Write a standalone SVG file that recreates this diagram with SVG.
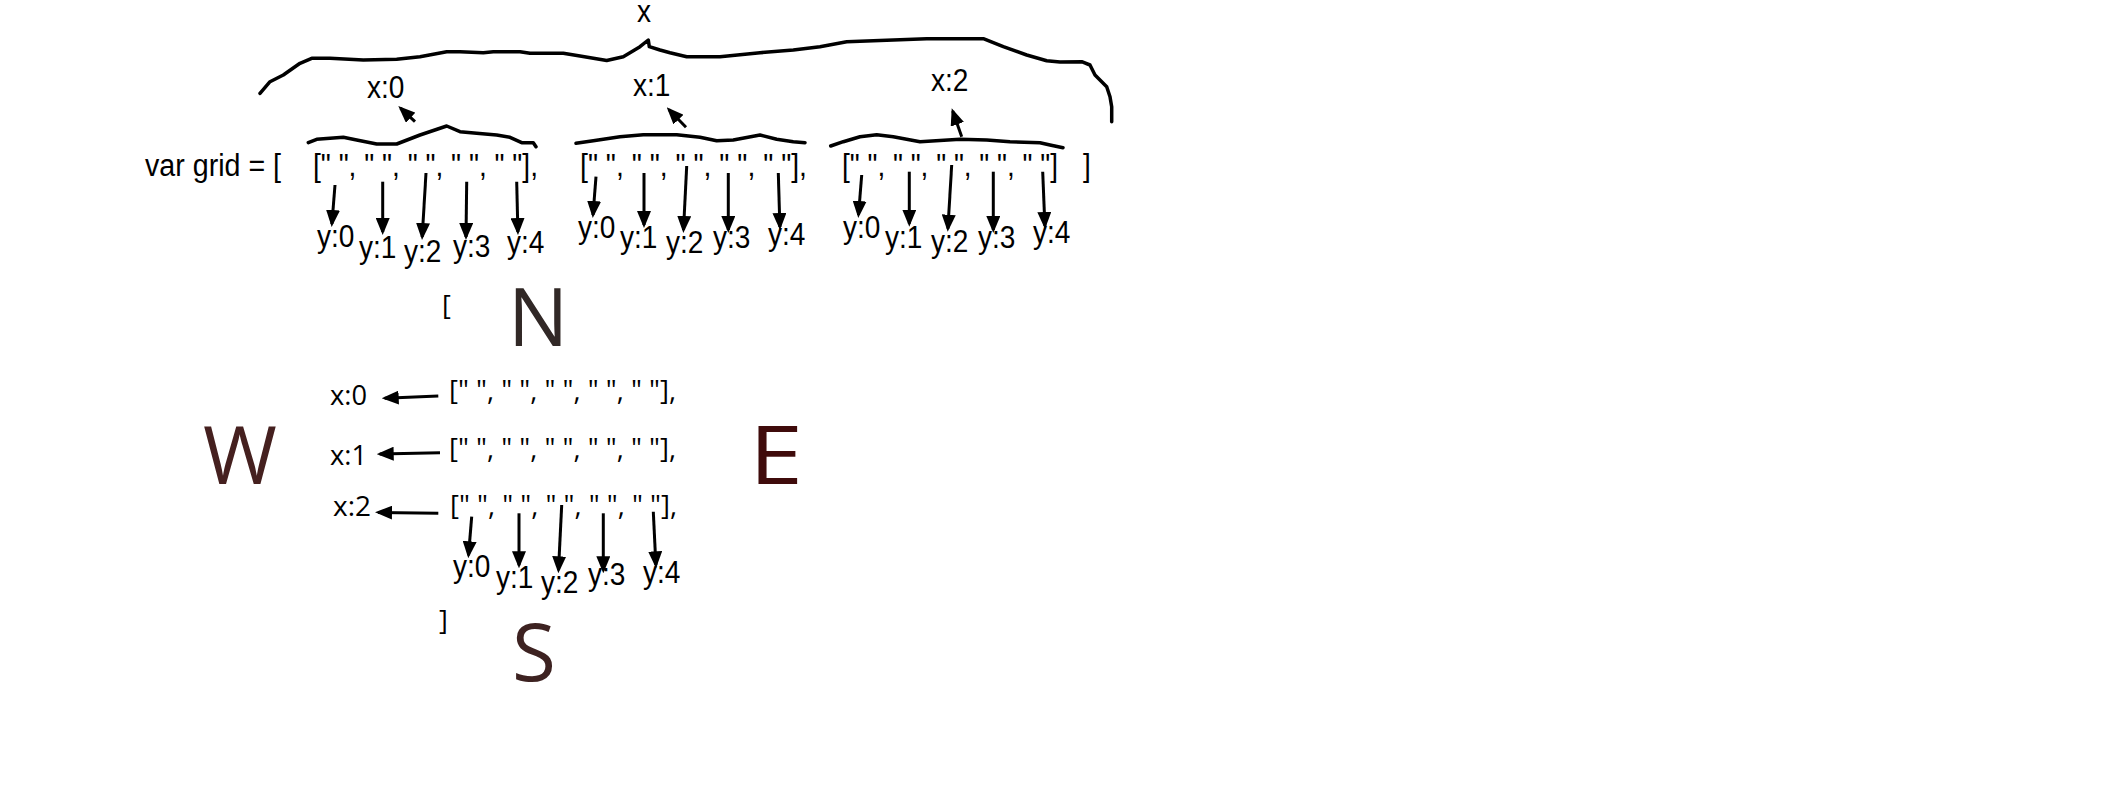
<svg xmlns="http://www.w3.org/2000/svg" width="2112" height="798" viewBox="0 0 2112 798">
<style>
.t{font-family:"Liberation Sans",Arial,sans-serif;font-size:31px;fill:#000}
.o{font-family:"Open Sans","Noto Sans",sans-serif;font-size:27px;fill:#000}
.ol{font-family:"Open Sans","Noto Sans",sans-serif;font-size:28px;fill:#000}
.big{font-family:"Open Sans","Noto Sans",sans-serif;font-size:80px}
.br{fill:none;stroke:#000;stroke-width:3.5;stroke-linejoin:round;stroke-linecap:round}
.ar{fill:none;stroke:#000;stroke-width:3;marker-end:url(#ah)}
</style>
<defs>
<marker id="ah" markerUnits="userSpaceOnUse" markerWidth="17" markerHeight="14" viewBox="0 0 17 14" refX="14" refY="7" orient="auto">
<path d="M0,0 L17,7 L0,14 z" fill="#000"/>
</marker>
</defs>
<rect width="2112" height="798" fill="#fff"/>

<g id="braces">
<polyline class="br" points="260,93.3 270,81.7 283.3,75 300,63.3 311.7,58.3 330,58.3 363.3,60 396.7,59.3 420,56.7 446.7,51.7 460,51.7 483.3,52.7 493.3,51.7 520,51.7 530,53.3 563.3,53.3 580,56 606.7,60.5 623.3,56.7 640,46.7 648.3,40 649.3,46.7 660,50 670,52.7 686.7,56.7 720,56.7 760,52.7 793.3,50 820,46.7 846.7,41.7 893.3,40 926.7,38.7 983.3,38.7 1003.3,46.7 1026.7,55 1046.7,60.7 1060,62 1081.7,61.7 1090,65 1095,75 1106.7,86.7 1110,96.7 1111.7,106.7 1111.7,121.7"/>
<polyline class="br" points="308.3,142.7 316.7,139.3 343.3,137.3 356.7,140 376.7,144 396.7,144 420,135 446.7,126 460,131.7 476.7,133.3 496.7,135 510,137.3 521.7,142.7 533.3,142.7 536,146.7"/>
<polyline class="br" points="576,143.3 593.3,140.7 620,136.7 643.3,134.7 676.7,134.7 700,137.3 716.7,140.7 733.3,140 760,135 776.7,139.3 793.3,141.7 805,142.7"/>
<polyline class="br" points="830.7,146 843.3,141.7 860,136.7 876.7,134.7 893.3,136.7 920,141.7 960,139.3 986.7,140 1010,141.7 1040,142.7 1050,145 1063,147.7"/>
</g>

<g id="top-labels">
<text class="t" x="637" y="22" textLength="14" lengthAdjust="spacingAndGlyphs">x</text>
<text class="t" x="367" y="98" textLength="37.4" lengthAdjust="spacingAndGlyphs">x:0</text>
<text class="t" x="633" y="96" textLength="37.4" lengthAdjust="spacingAndGlyphs">x:1</text>
<text class="t" x="931" y="91" textLength="37.4" lengthAdjust="spacingAndGlyphs">x:2</text>
</g>

<g id="grid-row">
<text class="t" x="145" y="176" textLength="136" lengthAdjust="spacingAndGlyphs">var grid = [</text>
<text class="t" x="313" y="176" textLength="225" lengthAdjust="spacingAndGlyphs">[" ", " ", " ", " ", " "],</text>
<text class="t" x="580" y="176" textLength="227" lengthAdjust="spacingAndGlyphs">[" ", " ", " ", " ", " "],</text>
<text class="t" x="842" y="176" textLength="216" lengthAdjust="spacingAndGlyphs">[" ", " ", " ", " ", " "]</text>
<text class="t" x="1083" y="176" textLength="7.8" lengthAdjust="spacingAndGlyphs">]</text>
</g>

<g id="y-labels-0">
<text class="t" x="317" y="247" textLength="37.4" lengthAdjust="spacingAndGlyphs">y:0</text>
<text class="t" x="359" y="258" textLength="37.4" lengthAdjust="spacingAndGlyphs">y:1</text>
<text class="t" x="404" y="262" textLength="37.4" lengthAdjust="spacingAndGlyphs">y:2</text>
<text class="t" x="453" y="257" textLength="37.4" lengthAdjust="spacingAndGlyphs">y:3</text>
<text class="t" x="507" y="253" textLength="37.4" lengthAdjust="spacingAndGlyphs">y:4</text>
</g>
<g id="y-labels-1">
<text class="t" x="578" y="238" textLength="37.4" lengthAdjust="spacingAndGlyphs">y:0</text>
<text class="t" x="620" y="248" textLength="37.4" lengthAdjust="spacingAndGlyphs">y:1</text>
<text class="t" x="666" y="253" textLength="37.4" lengthAdjust="spacingAndGlyphs">y:2</text>
<text class="t" x="713" y="248" textLength="37.4" lengthAdjust="spacingAndGlyphs">y:3</text>
<text class="t" x="768" y="245" textLength="37.4" lengthAdjust="spacingAndGlyphs">y:4</text>
</g>
<g id="y-labels-2">
<text class="t" x="843" y="238" textLength="37.4" lengthAdjust="spacingAndGlyphs">y:0</text>
<text class="t" x="885" y="248" textLength="37.4" lengthAdjust="spacingAndGlyphs">y:1</text>
<text class="t" x="931" y="252" textLength="37.4" lengthAdjust="spacingAndGlyphs">y:2</text>
<text class="t" x="978" y="248" textLength="37.4" lengthAdjust="spacingAndGlyphs">y:3</text>
<text class="t" x="1033" y="243" textLength="37.4" lengthAdjust="spacingAndGlyphs">y:4</text>
</g>

<g id="compass">
<text class="big" x="508" y="346" fill="#312826">N</text>
<text class="big" x="203" y="484" fill="#45201f">W</text>
<text class="big" x="749" y="484" fill="#3f0b0b" textLength="54" lengthAdjust="spacingAndGlyphs">E</text>
<text class="big" x="512" y="681" fill="#3d2221">S</text>
</g>

<g id="rows">
<text class="o" x="442" y="315">[</text>
<text class="o" x="449" y="400" textLength="227" lengthAdjust="spacingAndGlyphs">[" ", " ", " ", " ", " "],</text>
<text class="o" x="449" y="458" textLength="227" lengthAdjust="spacingAndGlyphs">[" ", " ", " ", " ", " "],</text>
<text class="o" x="450" y="515" textLength="227" lengthAdjust="spacingAndGlyphs">[" ", " ", " ", " ", " "],</text>
<text class="o" x="439" y="630">]</text>
<text class="ol" x="330" y="405" textLength="37" lengthAdjust="spacingAndGlyphs">x:0</text>
<text class="ol" x="330" y="465" textLength="37" lengthAdjust="spacingAndGlyphs">x:1</text>
<text class="ol" x="333" y="516" textLength="38" lengthAdjust="spacingAndGlyphs">x:2</text>
</g>

<g id="y-labels-rows">
<text class="t" x="453" y="577" textLength="37.4" lengthAdjust="spacingAndGlyphs">y:0</text>
<text class="t" x="496" y="588" textLength="37.4" lengthAdjust="spacingAndGlyphs">y:1</text>
<text class="t" x="541" y="593" textLength="37.4" lengthAdjust="spacingAndGlyphs">y:2</text>
<text class="t" x="588" y="585" textLength="37.4" lengthAdjust="spacingAndGlyphs">y:3</text>
<text class="t" x="643" y="583" textLength="37.4" lengthAdjust="spacingAndGlyphs">y:4</text>
</g>

<g id="connectors">
<line class="ar" x1="415" y1="121.7" x2="400.5" y2="108.1"/>
<line class="ar" x1="686" y1="127.3" x2="668.8" y2="109.5"/>
<line class="ar" x1="961.7" y1="136.7" x2="952.7" y2="111.1"/>

<line class="ar" x1="335" y1="185" x2="331.9" y2="224"/>
<line class="ar" x1="382.7" y1="181.7" x2="382.7" y2="232"/>
<line class="ar" x1="426" y1="173" x2="422.2" y2="237"/>
<line class="ar" x1="466.7" y1="181.7" x2="466" y2="237"/>
<line class="ar" x1="516.7" y1="181.7" x2="517.9" y2="232"/>

<line class="ar" x1="596" y1="176.7" x2="593" y2="215"/>
<line class="ar" x1="644" y1="173" x2="644" y2="225"/>
<line class="ar" x1="686.7" y1="166" x2="683.5" y2="230"/>
<line class="ar" x1="728.3" y1="173" x2="728.3" y2="230"/>
<line class="ar" x1="778.3" y1="173" x2="779.9" y2="227"/>

<line class="ar" x1="861.7" y1="175" x2="858.5" y2="215"/>
<line class="ar" x1="909.3" y1="171.7" x2="909.3" y2="223.7"/>
<line class="ar" x1="951.7" y1="165" x2="947.9" y2="228.7"/>
<line class="ar" x1="993.3" y1="171.7" x2="993.3" y2="230"/>
<line class="ar" x1="1042.7" y1="171.7" x2="1044.9" y2="226"/>

<line class="ar" x1="438.3" y1="396" x2="384.7" y2="398.2"/>
<line class="ar" x1="440" y1="452.7" x2="379.7" y2="454"/>
<line class="ar" x1="438.3" y1="513.3" x2="378" y2="512.4"/>

<line class="ar" x1="471.7" y1="516.7" x2="468.5" y2="555.3"/>
<line class="ar" x1="519" y1="513.3" x2="519" y2="565.3"/>
<line class="ar" x1="561.7" y1="505" x2="558.5" y2="570.3"/>
<line class="ar" x1="603.3" y1="513.3" x2="603.3" y2="570.3"/>
<line class="ar" x1="653.3" y1="511.7" x2="655.9" y2="565.3"/>
</g>
</svg>
